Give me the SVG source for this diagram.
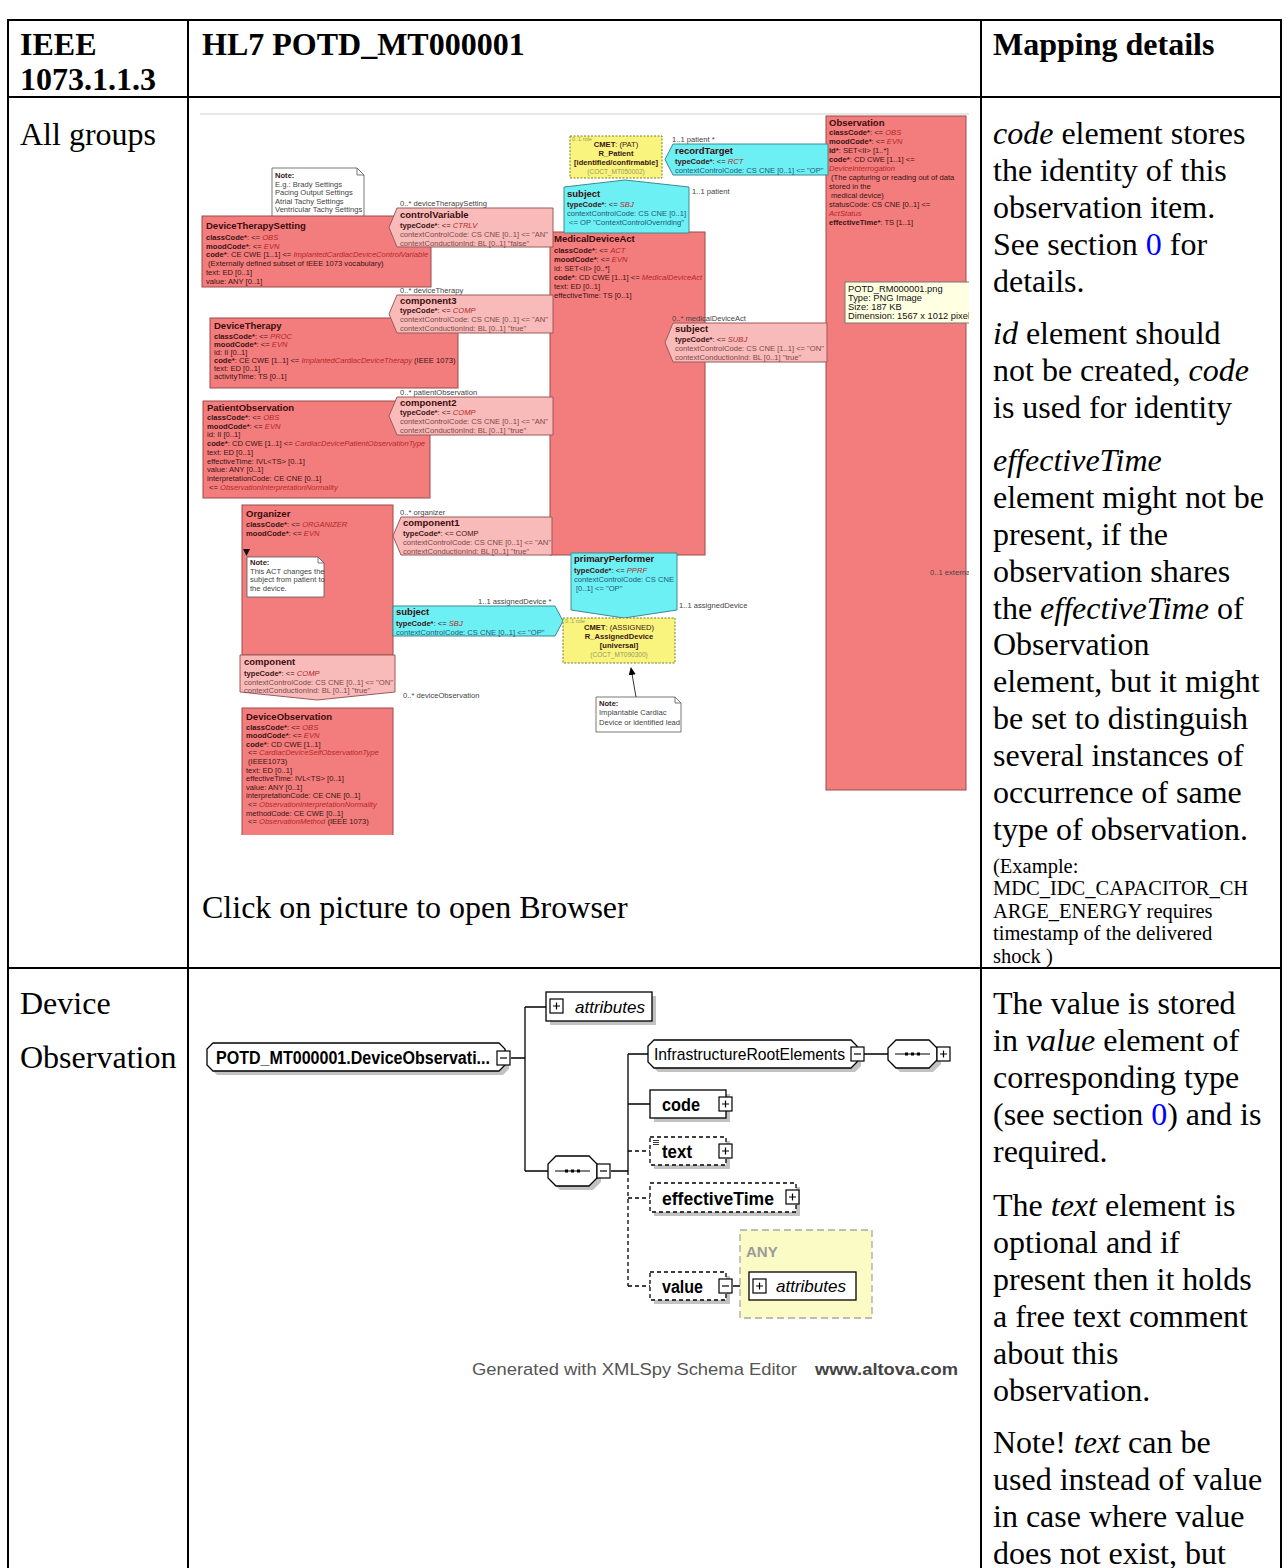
<svg xmlns="http://www.w3.org/2000/svg" width="1286" height="1568" viewBox="0 0 1286 1568">
<defs>
<style>
.tx{font-family:"Liberation Serif","Times New Roman",serif;font-size:32px;fill:#000}
.bd{font-weight:bold}
.it{font-style:italic}
.sm{font-size:20.5px}
.ln{fill:#0000ff}
.grid{stroke:#000;stroke-width:2;fill:none}
.hl{font-family:"Liberation Sans",Arial,sans-serif;font-size:7.6px;fill:#3b1414}
.ti{font-size:9.5px;font-weight:bold;fill:#3a0e0e}
.k{font-weight:bold}
.v{font-style:italic;fill:#b42a2a}
.cc{fill:#7c4a4a}
.cy{fill:#235a78}
.lb{fill:#444}
.gr{fill:#9a9a60}
.cls{fill:#f37c7c;stroke:#9c4a4a;stroke-width:1}
.rel{fill:#f9baba;stroke:#9c5a5a;stroke-width:1}
.cyn{fill:#6cf0f4;stroke:#3d8a90;stroke-width:1}
.cmet{fill:#f8f47e;stroke:#7d7a2c;stroke-width:1;stroke-dasharray:2 1.5}
.note{fill:#fff;stroke:#555;stroke-width:0.8}
.tip{fill:#ffffe1;stroke:#777;stroke-width:1}
.tipt{font-family:"Liberation Sans",Tahoma,sans-serif;font-size:9.3px;fill:#111}
.xs{font-family:"Liberation Sans",Arial,sans-serif;fill:#000}
.box{fill:#fff;stroke:#000;stroke-width:1.3}
.dbox{fill:#fff;stroke:#000;stroke-width:1.3;stroke-dasharray:4 3}
.sh{fill:#c2c2c2}
.wire{stroke:#000;stroke-width:1.3;fill:none}
.dwire{stroke:#000;stroke-width:1.3;fill:none;stroke-dasharray:4 3}
</style>
<clipPath id="figclip"><rect x="200" y="113" width="769" height="722"/></clipPath>
<g id="plusIcon"><rect x="0" y="0" width="13" height="14" fill="#fff" stroke="#000" stroke-width="1.2"/><path d="M3,7H10M6.5,3.5V10.5" stroke="#000" stroke-width="1.2"/></g>
<g id="minusIcon"><rect x="0" y="0" width="13" height="14" fill="#fff" stroke="#000" stroke-width="1.2"/><path d="M3,7H10" stroke="#000" stroke-width="1.2"/></g>
<marker id="noteArrow" markerWidth="8" markerHeight="8" refX="4" refY="4" orient="auto" markerUnits="userSpaceOnUse"><path d="M8,4 L0,0.5 L0,7.5 Z" fill="#000"/></marker>
</defs>
<rect width="1286" height="1568" fill="#fff"/>

<!-- table grid -->
<g id="table-grid" class="grid">
<path d="M7,20H1282M7,97H1282M7,968H1282"/>
<path d="M8,20V1568M188,20V1568M981,20V1568M1281,20V1568"/>
</g>

<!-- header row -->
<g id="header" class="tx bd">
<text x="20" y="55">IEEE</text>
<text x="20" y="90">1073.1.1.3</text>
<text x="202" y="55">HL7 POTD_MT000001</text>
<text x="993" y="55">Mapping details</text>
</g>

<!-- row: all groups -->
<g id="row-all-groups" class="tx">
<text x="20" y="145">All groups</text>
<text x="202" y="918">Click on picture to open Browser</text>
<text x="993" y="144"><tspan class="it">code</tspan> element stores</text>
<text x="993" y="181">the identity of this</text>
<text x="993" y="218">observation item.</text>
<text x="993" y="255">See section <tspan class="ln">0</tspan> for</text>
<text x="993" y="292">details.</text>
<text x="993" y="344"><tspan class="it">id</tspan> element should</text>
<text x="993" y="381">not be created, <tspan class="it">code</tspan></text>
<text x="993" y="418">is used for identity</text>
<text x="993" y="471" class="it">effectiveTime</text>
<text x="993" y="508">element might not be</text>
<text x="993" y="545">present, if the</text>
<text x="993" y="582">observation shares</text>
<text x="993" y="619">the <tspan class="it">effectiveTime</tspan> of</text>
<text x="993" y="655">Observation</text>
<text x="993" y="692">element, but it might</text>
<text x="993" y="729">be set to distinguish</text>
<text x="993" y="766">several instances of</text>
<text x="993" y="803">occurrence of same</text>
<text x="993" y="840">type of observation.</text>
<text x="993" y="873" class="sm">(Example:</text>
<text x="993" y="895" class="sm">MDC_IDC_CAPACITOR_CH</text>
<text x="993" y="918" class="sm">ARGE_ENERGY requires</text>
<text x="993" y="940" class="sm">timestamp of the delivered</text>
<text x="993" y="963" class="sm">shock )</text>
</g>

<!-- HL7 R-MIM picture -->
<g id="rmim" class="hl" clip-path="url(#figclip)">
<path d="M200,114H969" stroke="#cfcfcf" stroke-width="1.2"/>

<g id="note-settings">
<path class="note" d="M272,168H357L364,175V217H272Z"/><path d="M357,168V175H364" fill="none" stroke="#555" stroke-width="0.8"/>
<text x="275" y="178" class="k">Note:</text>
<text x="275" y="186.5" class="lb">E.g.: Brady Settings</text>
<text x="275" y="195" class="lb">Pacing Output Settings</text>
<text x="275" y="203.5" class="lb">Atrial Tachy Settings</text>
<text x="275" y="212" class="lb">Ventricular Tachy Settings</text>
</g>

<g id="DeviceTherapySetting">
<rect class="cls" x="202" y="216" width="229" height="71"/>
<text x="206" y="229" class="ti">DeviceTherapySetting</text>
<text x="206" y="240"><tspan class="k">classCode*</tspan>: &lt;= <tspan class="v">OBS</tspan></text>
<text x="206" y="248.5"><tspan class="k">moodCode*</tspan>: &lt;= <tspan class="v">EVN</tspan></text>
<text x="206" y="257"><tspan class="k">code*</tspan>: CE CWE [1..1] &lt;= <tspan class="v">ImplantedCardiacDeviceControlVariable</tspan></text>
<text x="208" y="266">(Externally defined subset of IEEE 1073 vocabulary)</text>
<text x="206" y="275">text: ED [0..1]</text>
<text x="206" y="283.5">value: ANY [0..1]</text>
</g>

<g id="DeviceTherapy">
<rect class="cls" x="210" y="318" width="248" height="70"/>
<text x="214" y="328.5" class="ti">DeviceTherapy</text>
<text x="214" y="339"><tspan class="k">classCode*</tspan>: &lt;= <tspan class="v">PROC</tspan></text>
<text x="214" y="347"><tspan class="k">moodCode*</tspan>: &lt;= <tspan class="v">EVN</tspan></text>
<text x="214" y="355">id: II [0..1]</text>
<text x="214" y="363"><tspan class="k">code*</tspan>: CE CWE [1..1] &lt;= <tspan class="v">ImplantedCardiacDeviceTherapy</tspan> (IEEE 1073)</text>
<text x="214" y="371">text: ED [0..1]</text>
<text x="214" y="379">activityTime: TS [0..1]</text>
</g>

<g id="PatientObservation">
<rect class="cls" x="203" y="401" width="227" height="97"/>
<text x="207" y="410.5" class="ti">PatientObservation</text>
<text x="207" y="420"><tspan class="k">classCode*</tspan>: &lt;= <tspan class="v">OBS</tspan></text>
<text x="207" y="428.7"><tspan class="k">moodCode*</tspan>: &lt;= <tspan class="v">EVN</tspan></text>
<text x="207" y="437.4">id: II [0..1]</text>
<text x="207" y="446.1"><tspan class="k">code*</tspan>: CD CWE [1..1] &lt;= <tspan class="v">CardiacDevicePatientObservationType</tspan></text>
<text x="207" y="454.8">text: ED [0..1]</text>
<text x="207" y="463.5">effectiveTime: IVL&lt;TS&gt; [0..1]</text>
<text x="207" y="472.2">value: ANY [0..1]</text>
<text x="207" y="480.9">interpretationCode: CE CNE [0..1]</text>
<text x="209" y="489.6">&lt;= <tspan class="v">ObservationInterpretationNormality</tspan></text>
</g>

<g id="Organizer">
<rect class="cls" x="242" y="505" width="151" height="150"/>
<text x="246" y="517" class="ti">Organizer</text>
<text x="246" y="527"><tspan class="k">classCode*</tspan>: &lt;= <tspan class="v">ORGANIZER</tspan></text>
<text x="246" y="535.5"><tspan class="k">moodCode*</tspan>: &lt;= <tspan class="v">EVN</tspan></text>
<path d="M243,549H250L246.5,556Z" fill="#111"/>
</g>

<g id="note-organizer">
<path class="note" d="M247,557H318L324,563V597H247Z"/><path d="M318,557V563H324" fill="none" stroke="#555" stroke-width="0.8"/>
<text x="250" y="565" class="k">Note:</text>
<text x="250" y="573.5" class="lb">This ACT changes the</text>
<text x="250" y="582" class="lb">subject from patient to</text>
<text x="250" y="590.5" class="lb">the device.</text>
</g>

<g id="DeviceObservation">
<rect class="cls" x="242" y="708" width="151" height="132"/>
<text x="246" y="719.5" class="ti">DeviceObservation</text>
<text x="246" y="729.5"><tspan class="k">classCode*</tspan>: &lt;= <tspan class="v">OBS</tspan></text>
<text x="246" y="738.1"><tspan class="k">moodCode*</tspan>: &lt;= <tspan class="v">EVN</tspan></text>
<text x="246" y="746.7"><tspan class="k">code*</tspan>: CD CWE [1..1]</text>
<text x="248" y="755.3">&lt;= <tspan class="v">CardiacDeviceSelfObservationType</tspan></text>
<text x="248" y="763.9">(IEEE1073)</text>
<text x="246" y="772.5">text: ED [0..1]</text>
<text x="246" y="781.1">effectiveTime: IVL&lt;TS&gt; [0..1]</text>
<text x="246" y="789.7">value: ANY [0..1]</text>
<text x="246" y="798.3">interpretationCode: CE CNE [0..1]</text>
<text x="248" y="806.9">&lt;= <tspan class="v">ObservationInterpretationNormality</tspan></text>
<text x="246" y="815.5">methodCode: CE CWE [0..1]</text>
<text x="248" y="824.1">&lt;= <tspan class="v">ObservationMethod</tspan> (IEEE 1073)</text>
</g>

<g id="MedicalDeviceAct">
<rect class="cls" x="550" y="232" width="155" height="323"/>
<text x="554" y="241.5" class="ti">MedicalDeviceAct</text>
<text x="554" y="252.5"><tspan class="k">classCode*</tspan>: &lt;= <tspan class="v">ACT</tspan></text>
<text x="554" y="261.5"><tspan class="k">moodCode*</tspan>: &lt;= <tspan class="v">EVN</tspan></text>
<text x="554" y="270.5">id: SET&lt;II&gt; [0..*]</text>
<text x="554" y="280"><tspan class="k">code*</tspan>: CD CWE [1..1] &lt;= <tspan class="v">MedicalDeviceAct</tspan></text>
<text x="554" y="289">text: ED [0..1]</text>
<text x="554" y="298">effectiveTime: TS [0..1]</text>
</g>

<g id="Observation">
<rect class="cls" x="826" y="116" width="140" height="674"/>
<text x="829" y="126" class="ti">Observation</text>
<text x="829" y="134.5"><tspan class="k">classCode*</tspan>: &lt;= <tspan class="v">OBS</tspan></text>
<text x="829" y="143.5"><tspan class="k">moodCode*</tspan>: &lt;= <tspan class="v">EVN</tspan></text>
<text x="829" y="152.5"><tspan class="k">id*</tspan>: SET&lt;II&gt; [1..*]</text>
<text x="829" y="161.5"><tspan class="k">code*</tspan>: CD CWE [1..1] &lt;=</text>
<text x="829" y="170.5" class="v">DeviceInterrogation</text>
<text x="831" y="179.5">(The capturing or reading out of data</text>
<text x="829" y="188.5">stored in the</text>
<text x="831" y="197.5">medical device)</text>
<text x="829" y="206.5">statusCode: CS CNE [0..1] &lt;=</text>
<text x="829" y="215.5" class="v">ActStatus</text>
<text x="829" y="224.5"><tspan class="k">effectiveTime*</tspan>: TS [1..1]</text>
<text x="930" y="575" class="lb">0..1 external</text>
</g>

<g id="controlVariable">
<text x="400" y="206" class="lb">0..* deviceTherapySetting</text>
<polygon class="rel" points="397,208 553,208 553,247 397,247 389,227.5"/>
<text x="400" y="217.5" class="ti">controlVariable</text>
<text x="400" y="227.5"><tspan class="k">typeCode*</tspan>: &lt;= <tspan class="v">CTRLV</tspan></text>
<text x="400" y="236.5" class="cc">contextControlCode: CS CNE [0..1] &lt;= "AN"</text>
<text x="400" y="245.5" class="cc">contextConductionInd: BL [0..1] "false"</text>
</g>

<g id="component3">
<text x="400" y="292.5" class="lb">0..* deviceTherapy</text>
<polygon class="rel" points="397,295 553,295 553,333 397,333 389,314"/>
<text x="400" y="303.5" class="ti">component3</text>
<text x="400" y="313"><tspan class="k">typeCode*</tspan>: &lt;= <tspan class="v">COMP</tspan></text>
<text x="400" y="322" class="cc">contextControlCode: CS CNE [0..1] &lt;= "AN"</text>
<text x="400" y="331" class="cc">contextConductionInd: BL [0..1] "true"</text>
</g>

<g id="component2">
<text x="400" y="394.5" class="lb">0..* patientObservation</text>
<polygon class="rel" points="397,397 553,397 553,435 397,435 389,416"/>
<text x="400" y="405.5" class="ti">component2</text>
<text x="400" y="415"><tspan class="k">typeCode*</tspan>: &lt;= <tspan class="v">COMP</tspan></text>
<text x="400" y="424" class="cc">contextControlCode: CS CNE [0..1] &lt;= "AN"</text>
<text x="400" y="433" class="cc">contextConductionInd: BL [0..1] "true"</text>
</g>

<g id="component1">
<text x="400" y="514.5" class="lb">0..* organizer</text>
<polygon class="rel" points="401,517 552,517 552,555 401,555 393,536"/>
<text x="403" y="525.5" class="ti">component1</text>
<text x="403" y="535.5"><tspan class="k">typeCode*</tspan>: &lt;= COMP</text>
<text x="403" y="544.5" class="cc">contextControlCode: CS CNE [0..1] &lt;= "AN"</text>
<text x="403" y="553.5" class="cc">contextConductionInd: BL [0..1] "true"</text>
</g>

<g id="component">
<polygon class="rel" points="240,655 395,655 395,692 317,700 240,692"/>
<text x="244" y="665" class="ti">component</text>
<text x="244" y="675.5"><tspan class="k">typeCode*</tspan>: &lt;= <tspan class="v">COMP</tspan></text>
<text x="244" y="684.5" class="cc">contextControlCode: CS CNE [0..1] &lt;= "ON"</text>
<text x="244" y="693" class="cc">contextConductionInd: BL [0..1] "true"</text>
<text x="403" y="697.5" class="lb">0..* deviceObservation</text>
</g>

<g id="subject-medicalDeviceAct">
<text x="672" y="320.5" class="lb">0..* medicalDeviceAct</text>
<polygon class="rel" points="673,323 827,323 827,362 673,362 665,342.5"/>
<text x="675" y="332" class="ti">subject</text>
<text x="675" y="341.5"><tspan class="k">typeCode*</tspan>: &lt;= <tspan class="v">SUBJ</tspan></text>
<text x="675" y="350.5" class="cc">contextControlCode: CS CNE [1..1] &lt;= "ON"</text>
<text x="675" y="359.5" class="cc">contextConductionInd: BL [0..1] "true"</text>
</g>

<g id="R_Patient">
<rect class="cmet" x="570" y="136" width="92" height="42"/>
<text x="572" y="140.5" class="gr" font-size="5.5">0..1 role</text>
<text x="616" y="146.5" text-anchor="middle"><tspan class="k">CMET</tspan>: (PAT)</text>
<text x="616" y="156" text-anchor="middle" class="k">R_Patient</text>
<text x="616" y="165" text-anchor="middle" class="k">[identified/confirmable]</text>
<text x="616" y="174" text-anchor="middle" class="gr" font-size="6.5">(COCT_MT050002)</text>
</g>

<g id="recordTarget">
<text x="672" y="141.5" class="lb">1..1 patient  *</text>
<polygon class="cyn" points="673,144 828,144 828,175 673,175 665,159.5"/>
<text x="675" y="153.5" class="ti">recordTarget</text>
<text x="675" y="164"><tspan class="k">typeCode*</tspan>: &lt;= <tspan class="v">RCT</tspan></text>
<text x="675" y="173" class="cy">contextControlCode: CS CNE [0..1] &lt;= "OP"</text>
</g>

<g id="subject-patient">
<polygon class="cyn" points="564,187 625,180 689,187 689,233 564,233"/>
<text x="567" y="196.5" class="ti">subject</text>
<text x="567" y="206.5"><tspan class="k">typeCode*</tspan>: &lt;= <tspan class="v">SBJ</tspan></text>
<text x="567" y="215.5" class="cy">contextControlCode: CS CNE [0..1]</text>
<text x="569" y="225" class="cy">&lt;= OP "ContextControlOverriding"</text>
<text x="692" y="194" class="lb">1..1 patient</text>
</g>

<g id="primaryPerformer">
<polygon class="cyn" points="571,553 677,553 677,610 624,618 571,610"/>
<text x="574" y="562" class="ti">primaryPerformer</text>
<text x="574" y="572.5"><tspan class="k">typeCode*</tspan>: &lt;= <tspan class="v">PPRF</tspan></text>
<text x="574" y="581.5" class="cy">contextControlCode: CS CNE</text>
<text x="576" y="590.5" class="cy">[0..1] &lt;= "OP"</text>
<text x="679" y="607.5" class="lb">1..1 assignedDevice</text>
</g>

<g id="subject-assignedDevice">
<text x="478" y="604" class="lb">1..1 assignedDevice  *</text>
<polygon class="cyn" points="393,606 555,606 563,621 555,636 393,636"/>
<text x="396" y="615" class="ti">subject</text>
<text x="396" y="625.5"><tspan class="k">typeCode*</tspan>: &lt;= <tspan class="v">SBJ</tspan></text>
<text x="396" y="634.5" class="cy">contextControlCode: CS CNE [0..1] &lt;= "OP"</text>
</g>

<g id="R_AssignedDevice">
<rect class="cmet" x="563" y="618" width="112" height="45"/>
<text x="565" y="623" class="gr" font-size="5.5">0..1 role</text>
<text x="619" y="629.5" text-anchor="middle"><tspan class="k">CMET</tspan>: (ASSIGNED)</text>
<text x="619" y="639" text-anchor="middle" class="k">R_AssignedDevice</text>
<text x="619" y="647.5" text-anchor="middle" class="k">[universal]</text>
<text x="619" y="656.5" text-anchor="middle" class="gr" font-size="6.5">(COCT_MT090300)</text>
</g>

<g id="note-device">
<path class="note" d="M596,697H675L681,703V732H596Z"/><path d="M675,697V703H681" fill="none" stroke="#555" stroke-width="0.8"/>
<text x="599" y="706" class="k">Note:</text>
<text x="599" y="715" class="lb">Implantable Cardiac</text>
<text x="599" y="724.5" class="lb">Device or identified lead</text>
</g>

<g id="rmim-connectors">
<path d="M636,697L631.5,671" stroke="#333" stroke-width="1" fill="none" marker-end="url(#noteArrow)"/>
</g>

<g id="tooltip">
<rect class="tip" x="845" y="282" width="130" height="41"/>
<text x="848" y="291.5" class="tipt">POTD_RM000001.png</text>
<text x="848" y="300.7" class="tipt">Type: PNG Image</text>
<text x="848" y="309.9" class="tipt">Size: 187 KB</text>
<text x="848" y="319.1" class="tipt">Dimension: 1567 x 1012 pixels</text>
</g>
</g>

<!-- row: device observation -->
<g id="row-device-observation" class="tx">
<text x="20" y="1014">Device</text>
<text x="20" y="1068">Observation</text>
<text x="993" y="1014">The value is stored</text>
<text x="993" y="1051">in <tspan class="it">value</tspan> element of</text>
<text x="993" y="1088">corresponding type</text>
<text x="993" y="1125">(see section <tspan class="ln">0</tspan>) and is</text>
<text x="993" y="1162">required.</text>
<text x="993" y="1216">The <tspan class="it">text</tspan> element is</text>
<text x="993" y="1253">optional and if</text>
<text x="993" y="1290">present then it holds</text>
<text x="993" y="1327">a free text comment</text>
<text x="993" y="1364">about this</text>
<text x="993" y="1401">observation.</text>
<text x="993" y="1453">Note! <tspan class="it">text</tspan> can be</text>
<text x="993" y="1490">used instead of value</text>
<text x="993" y="1527">in case where value</text>
<text x="993" y="1564">does not exist, but</text>
</g>

<!-- XML schema tree -->
<g id="xsd-tree" class="xs">
<g id="xsd-connectors">
<path class="wire" d="M511,1058H525M525,1007V1171M525,1007H546M525,1171H548M611,1171H628M628,1054V1171M628,1054H648M628,1104H650M864,1054H888M733,1286H749"/>
<path class="dwire" d="M628,1171V1286M628,1151H650M628,1198H650M628,1286H650"/>
</g>

<g id="xsd-attributes">
<rect class="sh" x="550" y="996" width="106" height="29"/>
<rect class="box" x="546" y="992" width="106" height="29"/>
<use href="#plusIcon" x="550" y="999"/>
<text x="575" y="1013" font-size="17" font-style="italic" textLength="70" lengthAdjust="spacingAndGlyphs">attributes</text>
</g>

<g id="xsd-root">
<path class="sh" d="M217,1047H503L509,1053V1069L503,1075H217L211,1069V1053Z"/>
<path class="box" d="M213,1043H499L505,1049V1065L499,1071H213L207,1065V1049Z"/>
<text x="216" y="1064" font-size="18" font-weight="bold" textLength="274" lengthAdjust="spacingAndGlyphs">POTD_MT000001.DeviceObservati...</text>
<use href="#minusIcon" x="497" y="1051"/>
</g>

<g id="xsd-sequence">
<path class="sh" d="M560,1160H593L601,1168V1182L593,1190H560L552,1182V1168Z"/>
<path class="box" d="M556,1156H589L597,1164V1178L589,1186H556L548,1178V1164Z"/>
<path d="M555,1171H590" stroke="#000" stroke-width="1.2"/>
<path d="M565,1169.5h3v3h-3zM571,1169.5h3v3h-3zM577,1169.5h3v3h-3z" fill="#000"/>
<use href="#minusIcon" x="597" y="1164"/>
</g>

<g id="xsd-infrastructure">
<path class="sh" d="M658,1044H855L861,1050V1066L855,1072H658L652,1066V1050Z"/>
<path class="box" d="M654,1040H851L857,1046V1062L851,1068H654L648,1062V1046Z"/>
<text x="654" y="1060" font-size="17" textLength="191" lengthAdjust="spacingAndGlyphs">InfrastructureRootElements</text>
<use href="#minusIcon" x="851" y="1047"/>
</g>

<g id="xsd-sequence-2">
<path class="sh" d="M900,1044H933L941,1052V1064L933,1072H900L892,1064V1052Z"/>
<path class="box" d="M896,1040H929L937,1048V1060L929,1068H896L888,1060V1048Z"/>
<path d="M895,1054H930" stroke="#000" stroke-width="1.2"/>
<path d="M905,1052.5h3v3h-3zM911,1052.5h3v3h-3zM917,1052.5h3v3h-3z" fill="#000"/>
<use href="#plusIcon" x="937" y="1047"/>
</g>

<g id="xsd-code">
<rect class="sh" x="654" y="1094" width="76" height="28"/>
<rect class="box" x="650" y="1090" width="76" height="28"/>
<text x="662" y="1111" font-size="18" font-weight="bold" textLength="38" lengthAdjust="spacingAndGlyphs">code</text>
<use href="#plusIcon" x="719" y="1097"/>
</g>

<g id="xsd-text">
<rect class="sh" x="654" y="1141" width="76" height="28"/>
<rect class="dbox" x="650" y="1137" width="76" height="28"/>
<path d="M653,1140.5h6M653,1142.5h6M653,1144.5h6" stroke="#000" stroke-width="0.8"/>
<text x="662" y="1158" font-size="18" font-weight="bold" textLength="30" lengthAdjust="spacingAndGlyphs">text</text>
<use href="#plusIcon" x="719" y="1144"/>
</g>

<g id="xsd-effectiveTime">
<rect class="sh" x="654" y="1187" width="146" height="29"/>
<rect class="dbox" x="650" y="1183" width="146" height="29"/>
<text x="662" y="1205" font-size="18" font-weight="bold" textLength="112" lengthAdjust="spacingAndGlyphs">effectiveTime</text>
<use href="#plusIcon" x="786" y="1190"/>
</g>

<g id="xsd-any">
<rect x="740" y="1230" width="132" height="88" fill="#fbfbc6" stroke="#a8a8a8" stroke-width="1.3" stroke-dasharray="7 4"/>
<text x="746" y="1257" font-size="15" font-weight="bold" fill="#9a9a9a">ANY</text>
<rect class="box" x="749" y="1272" width="107" height="28"/>
<use href="#plusIcon" x="753" y="1279"/>
<text x="776" y="1292" font-size="17" font-style="italic" textLength="70" lengthAdjust="spacingAndGlyphs">attributes</text>
</g>

<g id="xsd-value">
<rect class="sh" x="654" y="1276" width="76" height="28"/>
<rect class="dbox" x="650" y="1272" width="76" height="28"/>
<text x="662" y="1293" font-size="18" font-weight="bold" textLength="41" lengthAdjust="spacingAndGlyphs">value</text>
<use href="#minusIcon" x="719" y="1279"/>
</g>

<text x="472" y="1375" font-size="17" fill="#555" textLength="325" lengthAdjust="spacingAndGlyphs">Generated with XMLSpy Schema Editor</text>
<text x="815" y="1375" font-size="17" font-weight="bold" fill="#444" textLength="143" lengthAdjust="spacingAndGlyphs">www.altova.com</text>
</g>
</svg>
